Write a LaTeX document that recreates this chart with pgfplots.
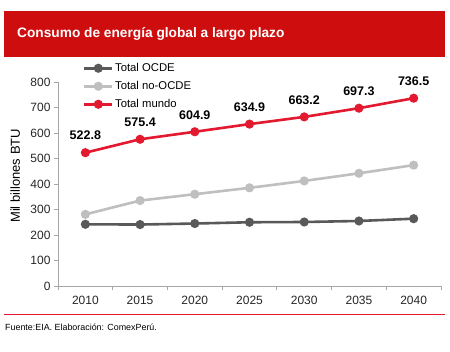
\documentclass[border=0pt]{standalone}
\usepackage{pgfplots}
\pgfplotsset{compat=1.18}
\usepackage{fontspec}
\setmainfont{Liberation Sans}
\definecolor{banner}{HTML}{CE0E0E}
\definecolor{mundo}{HTML}{E2192F}
\definecolor{ocde}{HTML}{595959}
\definecolor{nocde}{HTML}{BFBFBF}
\definecolor{axgray}{HTML}{A6A6A6}
\begin{document}
\begin{tikzpicture}[x=1bp,y=1bp]
\useasboundingbox (0,0) rectangle (450,351);
\fill[banner] (4,294) rectangle (445,340);
\node[anchor=west,text=white,font=\fontsize{13.7bp}{15bp}\selectfont\bfseries,inner sep=0pt] at (17,317) {Consumo de energía global a largo plazo};
\draw[mundo,line width=1bp] (4,37) -- (445,37);
\node[anchor=west,font=\fontsize{8.9bp}{11bp}\selectfont,inner sep=0pt] at (5,24) {Fuente:EIA. Elaboración: ComexPerú.};
\begin{axis}[
  at={(58bp,65bp)}, anchor=south west,
  scale only axis, width=383bp, height=204bp,
  xmin=-0.5, xmax=6.5, ymin=0, ymax=800,
  axis x line*=bottom, axis y line*=left,
  axis line style={axgray, line width=0.8bp},
  xtick={0,...,6},
  xticklabels={2010,2015,2020,2025,2030,2035,2040},
  major x tick style={draw=none},
  minor xtick={-0.5,0.5,1.5,2.5,3.5,4.5,5.5,6.5},
  minor x tick style={axgray, line width=0.8bp},
  minor tick length=4bp,
  ytick={0,100,...,800},
  major y tick style={axgray, line width=0.8bp},
  major tick length=4bp,
  tick align=outside,
  tick label style={font=\fontsize{12bp}{14bp}\selectfont, text=black!85},
  /pgf/number format/assume math mode=true,
  xticklabel style={yshift=-3bp},
  ylabel={Mil billones BTU},
  ylabel style={at={(axis description cs:-0.112,0.54)}, anchor=center, font=\fontsize{13bp}{15bp}\selectfont},
  legend style={at={(axis description cs:0.057,1.11)}, anchor=north west, draw=none, fill=none,
    font=\fontsize{11.3bp}{13bp}\selectfont, row sep=5bp,
    nodes={inner sep=1.5bp, text height=8bp, text depth=2bp}},
  legend cell align=left,
  legend image code/.code={\draw[mark repeat=2,mark phase=2] plot coordinates {(0bp,0bp)(14bp,0bp)(28bp,0bp)};},
  clip=false,
]
\addplot[ocde, line width=2.6bp, mark=*, mark size=3.2bp] coordinates {
 (0,242) (1,241) (2,245) (3,250) (4,251) (5,255) (6,264)};
\addlegendentry{Total OCDE}
\addplot[nocde, line width=2.6bp, mark=*, mark size=3.2bp] coordinates {
 (0,281) (1,335) (2,360) (3,385) (4,412) (5,442) (6,474)};
\addlegendentry{Total no-OCDE}
\addplot[mundo, line width=2.6bp, mark=*, mark size=3.2bp,
  nodes near coords,
  every node near coord/.append style={anchor=center, yshift=17bp, text=black,
    font=\fontsize{12.5bp}{14bp}\selectfont\bfseries},
  point meta=explicit symbolic] coordinates {
 (0,522.8) [522.8] (1,575.4) [575.4] (2,604.9) [604.9] (3,634.9) [634.9]
 (4,663.2) [663.2] (5,697.3) [697.3] (6,736.5) [736.5]};
\addlegendentry{Total mundo}
\end{axis}
\end{tikzpicture}
\end{document}
